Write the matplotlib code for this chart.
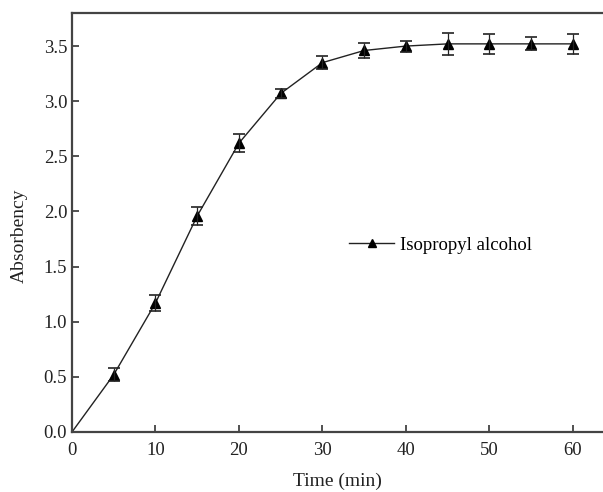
import matplotlib
matplotlib.use('Agg')
import matplotlib.pyplot as plt

plt.rcParams['font.family'] = ['Liberation Serif', 'DejaVu Serif']

# data
time_min = [0, 5, 10, 15, 20, 25, 30, 35, 40, 45, 50, 55, 60]
absorb = [0.0, 0.52, 1.17, 1.96, 2.62, 3.07, 3.35, 3.46, 3.50, 3.52, 3.52, 3.52, 3.52]
err = [0.0, 0.06, 0.07, 0.08, 0.08, 0.04, 0.06, 0.07, 0.05, 0.10, 0.09, 0.06, 0.09]

fig = plt.figure(figsize=(6.03, 4.92), dpi=100)
ax = fig.add_axes([72/603, 60/492, 531/603, 419/492])

# line through all points incl. origin
ax.plot(time_min, absorb, color='#222222', lw=1.0, label='Isopropyl alcohol',
        marker='^', markersize=7.5, markerfacecolor='black', markeredgecolor='black',
        markevery=list(range(1, len(time_min))))
ax.errorbar(time_min[1:], absorb[1:], yerr=err[1:], fmt='none', ecolor='#222222',
            elinewidth=0.9, capsize=4.5, capthick=1.2)

ax.set_xlim(0, 63.6)
ax.set_ylim(0, 3.8)
ax.set_xticks([0, 10, 20, 30, 40, 50, 60])
ax.set_yticks([0.0, 0.5, 1.0, 1.5, 2.0, 2.5, 3.0, 3.5])
ax.set_yticklabels(['0.0', '0.5', '1.0', '1.5', '2.0', '2.5', '3.0', '3.5'])
ax.tick_params(direction='in', length=5, width=1.2, labelsize=13.5, colors='#333333',
               labelcolor='#222222')
ax.tick_params(axis='x', pad=7)

for s in ['left', 'bottom', 'top']:
    ax.spines[s].set_linewidth(1.6)
    ax.spines[s].set_color('#444444')
ax.spines['right'].set_visible(False)

ax.set_xlabel('Time (min)', fontsize=14, color='#222222', labelpad=10)
ax.set_ylabel('Absorbency', fontsize=14, color='#222222')
ax.yaxis.set_label_coords(-0.083, 0.468)

ax.legend(loc='center left', bbox_to_anchor=(0.49, 0.446), frameon=False,
          fontsize=13.5, handlelength=2.4, handletextpad=0.3, markerscale=0.75)

fig.savefig('out.png', dpi=100)
